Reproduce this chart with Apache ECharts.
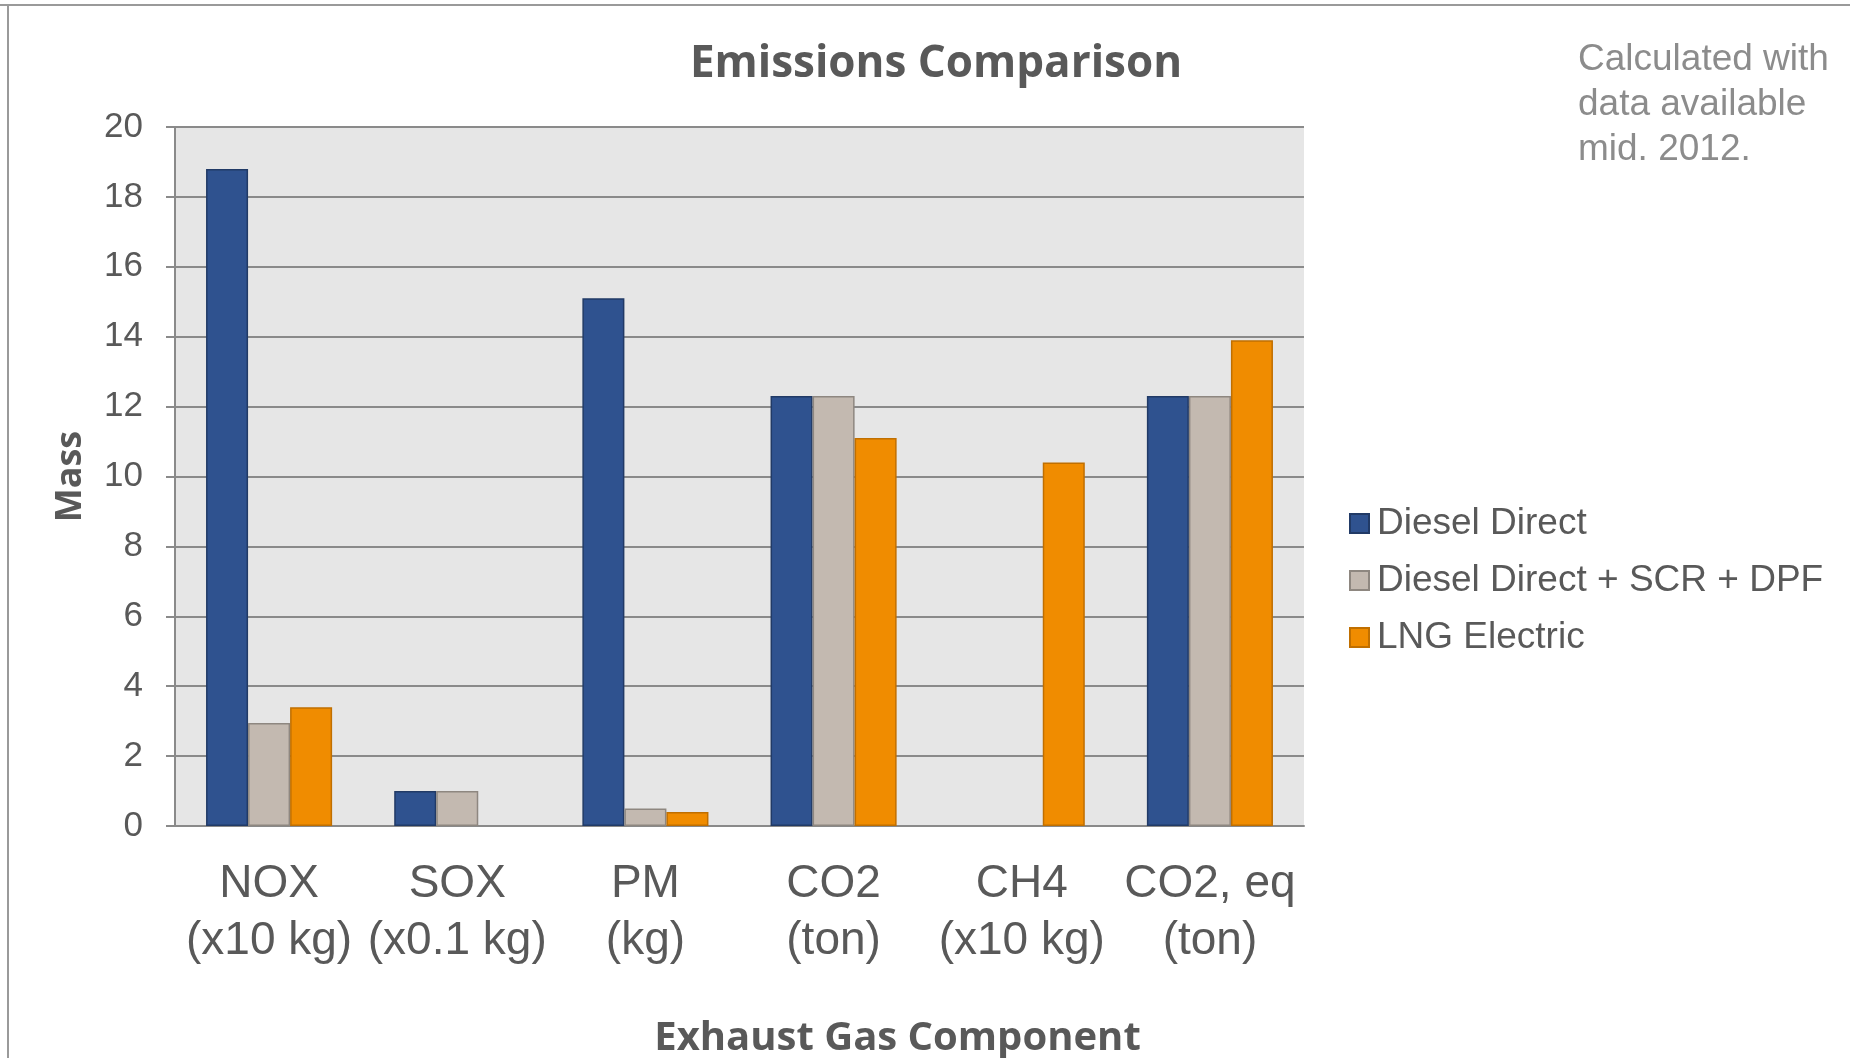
<!DOCTYPE html>
<html>
<head>
<meta charset="utf-8">
<script src="https://cdn.jsdelivr.net/npm/echarts@6/dist/echarts.min.js"></script>
<style>
  html, body { margin: 0; padding: 0; background: #fff; }
  #chart { width: 1850px; height: 1058px; }
</style>
</head>
<body>
<div id="chart"></div>
<script>
// Exhaust gas components (with unit scaling shown on the second line)
const categories = [
  'NOX\n(x10 kg)',
  'SOX\n(x0.1 kg)',
  'PM\n(kg)',
  'CO2\n(ton)',
  'CH4\n(x10 kg)',
  'CO2, eq\n(ton)'
];

// Mass per propulsion configuration
const dieselDirect = [18.8, 1.0, 15.1, 12.3, 0, 12.3];
const dieselScrDpf = [2.95, 1.0, 0.5, 12.3, 0, 12.3];
const lngElectric = [3.4, 0, 0.4, 11.1, 10.4, 13.9];

const yTicks = { min: 0, max: 20, interval: 2 };

const labelColor = '#595959';
const gridColor = '#8a8a8a';

// zero values leave an empty slot instead of a hairline bar
const asBars = (values) => values.map(v => (v === 0 ? null : v));

const chart = echarts.init(document.getElementById('chart'), null, { renderer: 'canvas' });

const barBase = { type: 'bar', barGap: '0%', barCategoryGap: '33%' };

const option = {
  backgroundColor: '#ffffff',
  animation: false,
  title: [
    {
      text: 'Emissions Comparison',
      left: 931,
      top: 59,
      textAlign: 'center',
      textVerticalAlign: 'middle',
      textStyle: {
        fontFamily: 'Open Sans',
        fontWeight: 'bold',
        fontSize: 44,
        color: labelColor
      }
    },
    {
      text: 'Calculated with\ndata available\nmid. 2012.',
      left: 1578,
      top: 37,
      padding: 0,
      textStyle: {
        fontFamily: 'Liberation Sans',
        fontWeight: 'normal',
        fontSize: 37,
        lineHeight: 45,
        color: '#8c8c8c'
      }
    }
  ],
  legend: {
    orient: 'vertical',
    left: 1349,
    top: 505,
    padding: 0,
    icon: 'rect',
    itemWidth: 19,
    itemHeight: 19,
    itemGap: 20,
    textStyle: {
      fontFamily: 'Liberation Sans',
      fontSize: 37,
      lineHeight: 37,
      color: labelColor,
      padding: [0, 0, 0, 3]
    },
    data: ['Diesel Direct', 'Diesel Direct + SCR + DPF', 'LNG Electric']
  },
  grid: {
    left: 175,
    right: 546,
    top: 127,
    bottom: 232,
    outerBoundsMode: 'none',
    containLabel: false,
    show: true,
    backgroundColor: '#e6e6e6',
    borderWidth: 0
  },
  xAxis: {
    type: 'category',
    data: categories,
    name: 'Exhaust Gas Component',
    nameLocation: 'middle',
    nameGap: 193,
    nameTextStyle: {
      fontFamily: 'Open Sans',
      fontWeight: 'bold',
      fontSize: 40,
      color: labelColor,
      padding: [0, 0, 0, 316]
    },
    axisLine: { show: true, lineStyle: { color: gridColor, width: 2 } },
    axisTick: { show: false },
    axisLabel: {
      fontFamily: 'Liberation Sans',
      fontSize: 46,
      lineHeight: 57,
      color: labelColor,
      margin: 30,
      interval: 0
    }
  },
  yAxis: {
    type: 'value',
    min: yTicks.min,
    max: yTicks.max,
    interval: yTicks.interval,
    name: 'Mass',
    nameLocation: 'middle',
    nameGap: 86,
    nameRotate: 90,
    nameTextStyle: {
      fontFamily: 'Open Sans',
      fontWeight: 'bold',
      fontSize: 36,
      color: labelColor
    },
    axisLine: { show: true, lineStyle: { color: gridColor, width: 2 } },
    axisTick: { show: true, inside: false, length: 9, lineStyle: { color: gridColor, width: 2 } },
    axisLabel: {
      fontFamily: 'Liberation Sans',
      fontSize: 35,
      color: labelColor,
      margin: 32
    },
    splitLine: { show: true, lineStyle: { color: gridColor, width: 2 } }
  },
  series: [
    Object.assign({}, barBase, {
      name: 'Diesel Direct',
      data: asBars(dieselDirect),
      itemStyle: { color: '#2f528f', borderColor: '#213a66', borderWidth: 1.5 }
    }),
    Object.assign({}, barBase, {
      name: 'Diesel Direct + SCR + DPF',
      data: asBars(dieselScrDpf),
      itemStyle: { color: '#c3b9b0', borderColor: '#8e8780', borderWidth: 1.5 }
    }),
    Object.assign({}, barBase, {
      name: 'LNG Electric',
      data: asBars(lngElectric),
      itemStyle: { color: '#f08c00', borderColor: '#c06f00', borderWidth: 1.5 }
    })
  ],
  graphic: [
    {
      type: 'line',
      shape: { x1: 0, y1: 5, x2: 1850, y2: 5 },
      style: { stroke: '#9a9a9a', lineWidth: 2 },
      silent: true
    },
    {
      type: 'line',
      shape: { x1: 8, y1: 5, x2: 8, y2: 1058 },
      style: { stroke: '#9a9a9a', lineWidth: 2 },
      silent: true
    }
  ]
};

chart.setOption(option);
</script>
</body>
</html>
